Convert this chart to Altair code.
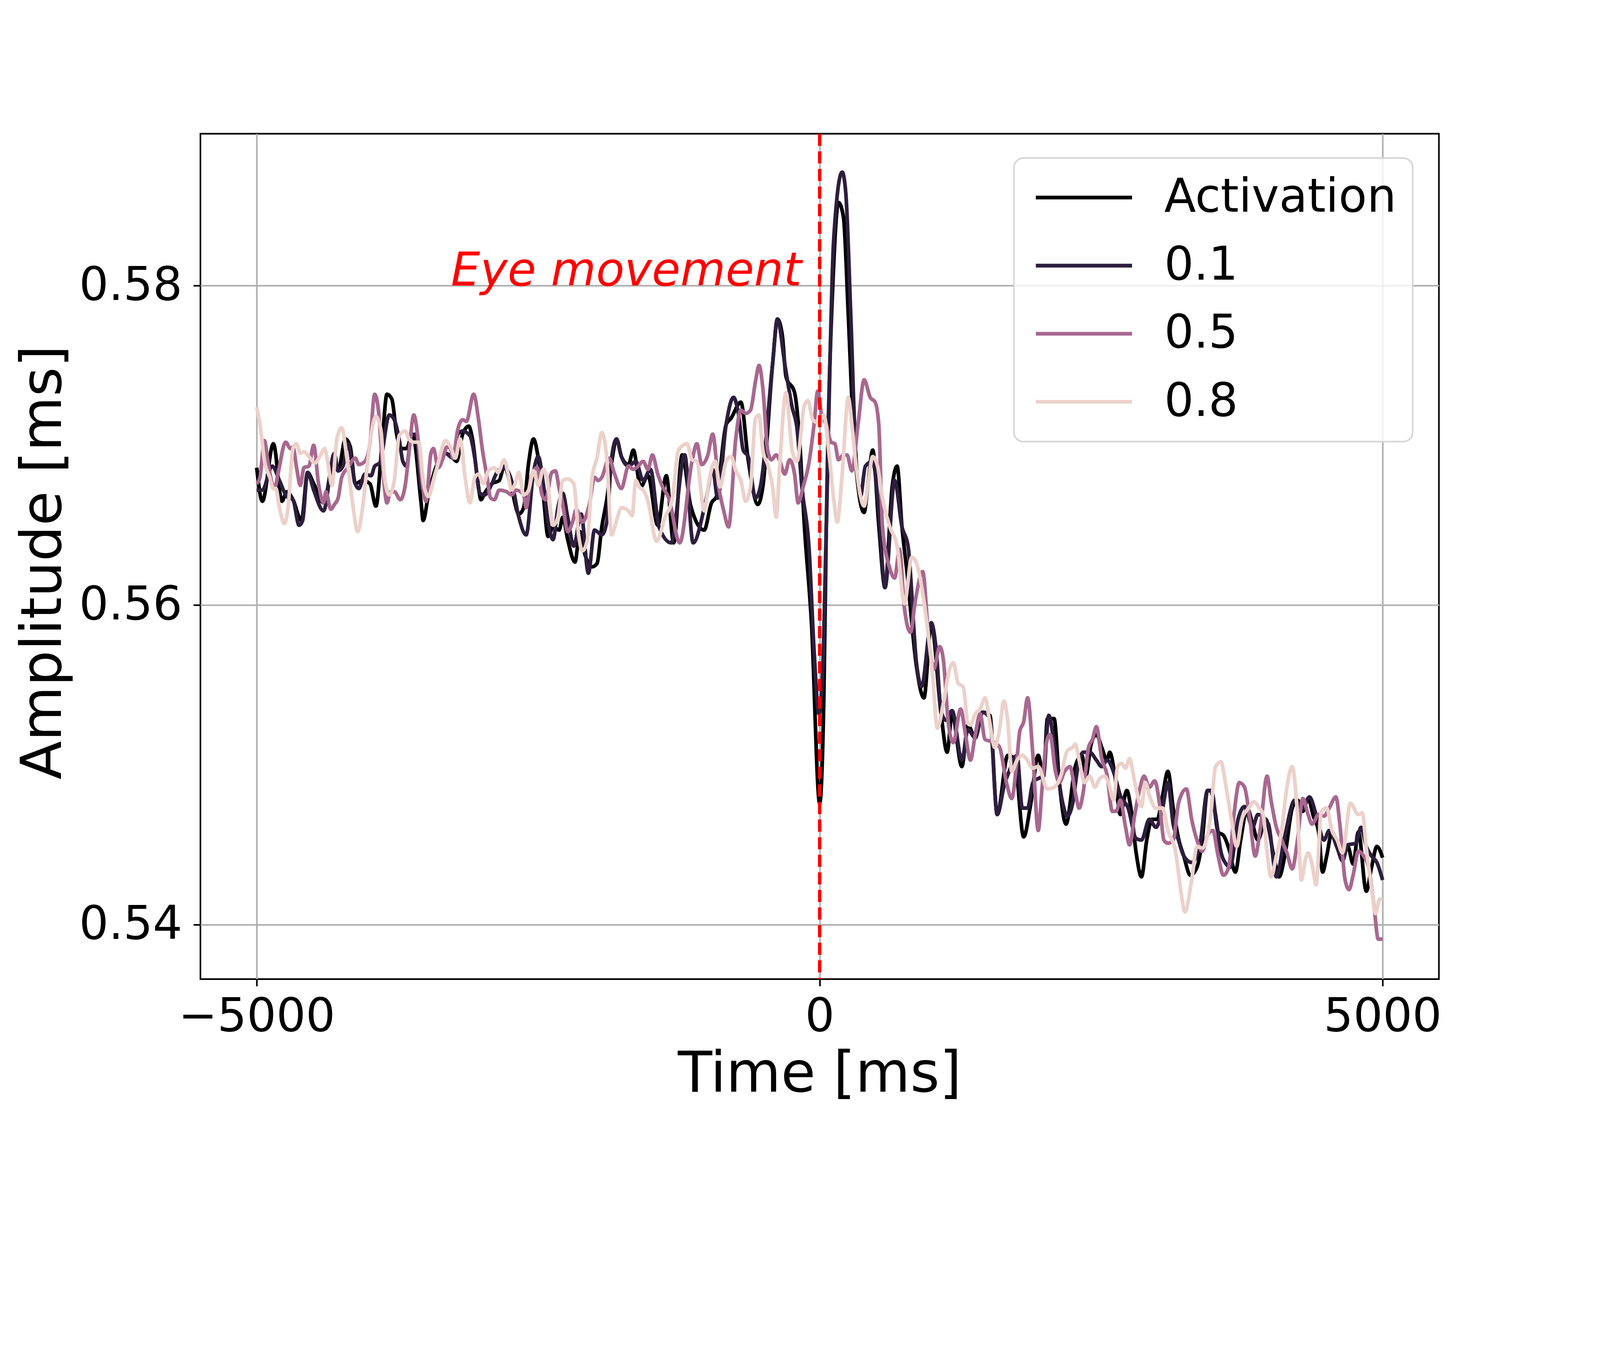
import altair as alt
import pandas as pd

# ---------------- data ----------------
series_names = ["Activation", "0.1", "0.5", "0.8"]
series_colors = ["#000000", "#2d1e3e", "#a8688f", "#ecd1ca"]

t_act = [-5000, -4950, -4852, -4776, -4733, -4678, -4603, -4548, -4494, -4407, -4310, -4277, -4212, -4169, -4125,
         -4060, -3995, -3941, -3887, -3843, -3800, -3757, -3713, -3670, -3616, -3540, -3522, -3475, -3410, -3323,
         -3258, -3225, -3171, -3117, -3084, -3041, -3008, -2976, -2911, -2846, -2802, -2737, -2672, -2629, -2585,
         -2542, -2499, -2455, -2412, -2368, -2314, -2282, -2238, -2173, -2130, -2086, -2021, -1978, -1935, -1891,
         -1848, -1804, -1761, -1698, -1655, -1590, -1525, -1438, -1362, -1297, -1221, -1145, -1026, -961, -917,
         -831, -787, -700, -635, -549, -505, -418, -375, -332, -299, -223, -180, -136, -72, 0,
         37, 59, 124, 167, 211, 254, 297, 341, 395, 427, 471, 525, 580, 644, 688,
         731, 775, 861, 926, 991, 1078, 1132, 1176, 1263, 1317, 1382, 1447, 1512, 1577, 1671,
         1730, 1812, 1871, 1941, 1988, 2023, 2082, 2129, 2188, 2270, 2329, 2364, 2411, 2458, 2505,
         2552, 2576, 2623, 2670, 2728, 2764, 2811, 2858, 2905, 2952, 2999, 3046, 3093, 3140, 3187,
         3234, 3292, 3351, 3398, 3445, 3480, 3539, 3586, 3633, 3692, 3739, 3798, 3845, 3892, 3962,
         4033, 4080, 4138, 4197, 4244, 4291, 4338, 4385, 4432, 4467, 4503, 4550, 4597, 4644, 4691,
         4738, 4785, 4855, 4902, 4949, 5000]
v_act = [0.5686, 0.5665, 0.5701, 0.5665, 0.5671, 0.5666, 0.5653, 0.5683, 0.5676, 0.5664, 0.5692, 0.5684, 0.5704, 0.5699, 0.5676,
         0.5678, 0.5676, 0.5662, 0.5701, 0.5732, 0.5729, 0.5707, 0.5698, 0.5698, 0.5707, 0.5664, 0.5653, 0.5669, 0.5686, 0.5695,
         0.5692, 0.5690, 0.5707, 0.5712, 0.5704, 0.5680, 0.5666, 0.5670, 0.5676, 0.5678, 0.5687, 0.5673, 0.5657, 0.5661, 0.5689,
         0.5704, 0.5692, 0.5669, 0.5643, 0.5649, 0.5647, 0.5655, 0.5641, 0.5627, 0.5646, 0.5632, 0.5624, 0.5626, 0.5649, 0.5666,
         0.5689, 0.5704, 0.5693, 0.5688, 0.5697, 0.5674, 0.5681, 0.5650, 0.5681, 0.5639, 0.5694, 0.5662, 0.5647, 0.5664, 0.5668,
         0.5713, 0.5717, 0.5727, 0.5691, 0.5663, 0.5674, 0.5751, 0.5779, 0.5769, 0.5743, 0.5733, 0.5705, 0.5650, 0.5588, 0.5476,
         0.5542, 0.5649, 0.5812, 0.5852, 0.5843, 0.5782, 0.5713, 0.5674, 0.5658, 0.5674, 0.5697, 0.5650, 0.5611, 0.5674, 0.5687,
         0.5649, 0.5621, 0.5561, 0.5542, 0.5588, 0.5532, 0.5508, 0.5532, 0.5499, 0.5525, 0.5517, 0.5533, 0.5531, 0.5469, 0.5506,
         0.5504, 0.5455, 0.5474, 0.5506, 0.5493, 0.5529, 0.5529, 0.5489, 0.5463, 0.5499, 0.5506, 0.5493, 0.5513, 0.5519, 0.5511,
         0.5503, 0.5508, 0.5493, 0.5469, 0.5484, 0.5473, 0.5445, 0.5430, 0.5453, 0.5466, 0.5466, 0.5481, 0.5496, 0.5473, 0.5454,
         0.5443, 0.5431, 0.5436, 0.5453, 0.5484, 0.5484, 0.5458, 0.5456, 0.5448, 0.5433, 0.5453, 0.5473, 0.5463, 0.5453, 0.5466,
         0.5443, 0.5430, 0.5446, 0.5473, 0.5478, 0.5471, 0.5479, 0.5468, 0.5458, 0.5433, 0.5443, 0.5458, 0.5451, 0.5443, 0.5449,
         0.5438, 0.5458, 0.5421, 0.5436, 0.5449, 0.5442]

t_01 = [-5000, -4950, -4863, -4798, -4733, -4678, -4624, -4592, -4548, -4494, -4407, -4310, -4277, -4234, -4190,
        -4125, -4093, -4039, -3984, -3952, -3908, -3822, -3778, -3735, -3702, -3670, -3626, -3583, -3540, -3475,
        -3410, -3323, -3258, -3214, -3171, -3106, -3063, -3019, -2976, -2911, -2867, -2802, -2737, -2672, -2607,
        -2542, -2499, -2455, -2412, -2368, -2325, -2282, -2238, -2184, -2119, -2054, -2000, -1935, -1891, -1848,
        -1804, -1761, -1698, -1633, -1568, -1503, -1427, -1319, -1199, -1124, -1015, -950, -906, -831, -765,
        -722, -679, -635, -570, -527, -418, -375, -310, -245, -202, -158, -93, -50, -6, 26,
        59, 124, 200, 232, 276, 319, 362, 406, 471, 525, 580, 666, 731, 785, 861,
        905, 991, 1035, 1078, 1122, 1176, 1263, 1317, 1382, 1447, 1512, 1577, 1642, 1683, 1753,
        1800, 1847, 1894, 1988, 2035, 2082, 2153, 2200, 2247, 2294, 2341, 2399, 2458, 2505, 2552,
        2623, 2670, 2740, 2811, 2858, 2928, 2987, 3046, 3093, 3140, 3187, 3234, 3304, 3375, 3445,
        3469, 3516, 3563, 3610, 3645, 3716, 3774, 3845, 3892, 3986, 4056, 4127, 4221, 4291, 4350,
        4409, 4479, 4526, 4597, 4644, 4691, 4761, 4808, 4855, 4902, 4949, 5000]
v_01 = [0.5672, 0.5672, 0.5687, 0.5678, 0.5668, 0.5666, 0.5650, 0.5653, 0.5683, 0.5672, 0.5659, 0.5695, 0.5684, 0.5687, 0.5701,
        0.5676, 0.5673, 0.5682, 0.5681, 0.5687, 0.5689, 0.5719, 0.5716, 0.5704, 0.5690, 0.5687, 0.5706, 0.5707, 0.5673, 0.5672,
        0.5684, 0.5695, 0.5692, 0.5707, 0.5709, 0.5706, 0.5692, 0.5670, 0.5669, 0.5676, 0.5683, 0.5686, 0.5678, 0.5655, 0.5644,
        0.5683, 0.5693, 0.5676, 0.5652, 0.5641, 0.5661, 0.5670, 0.5655, 0.5637, 0.5657, 0.5620, 0.5647, 0.5644, 0.5652, 0.5692,
        0.5704, 0.5693, 0.5687, 0.5690, 0.5678, 0.5685, 0.5649, 0.5639, 0.5694, 0.5639, 0.5664, 0.5685, 0.5667, 0.5713, 0.5730,
        0.5720, 0.5697, 0.5693, 0.5667, 0.5674, 0.5751, 0.5779, 0.5751, 0.5724, 0.5711, 0.5674, 0.5634, 0.5572, 0.5532, 0.5557,
        0.5649, 0.5828, 0.5871, 0.5858, 0.5782, 0.5697, 0.5668, 0.5687, 0.5690, 0.5659, 0.5611, 0.5678, 0.5649, 0.5637, 0.5563,
        0.5549, 0.5589, 0.5572, 0.5534, 0.5528, 0.5534, 0.5503, 0.5522, 0.5517, 0.5533, 0.5529, 0.5469, 0.5488, 0.5496, 0.5506,
        0.5473, 0.5473, 0.5489, 0.5494, 0.5531, 0.5514, 0.5478, 0.5468, 0.5476, 0.5499, 0.5508, 0.5508, 0.5503, 0.5499, 0.5503,
        0.5493, 0.5481, 0.5473, 0.5454, 0.5453, 0.5466, 0.5461, 0.5473, 0.5489, 0.5463, 0.5453, 0.5443, 0.5439, 0.5449, 0.5484,
        0.5484, 0.5469, 0.5446, 0.5438, 0.5436, 0.5466, 0.5474, 0.5461, 0.5469, 0.5463, 0.5430, 0.5454, 0.5478, 0.5473, 0.5480,
        0.5469, 0.5453, 0.5459, 0.5448, 0.5440, 0.5450, 0.5451, 0.5461, 0.5449, 0.5443, 0.5439, 0.5428]

t_05 = [-5000, -4971, -4932, -4895, -4841, -4809, -4743, -4700, -4678, -4646, -4613, -4581, -4537, -4494, -4451,
        -4407, -4386, -4342, -4310, -4277, -4245, -4190, -4125, -4093, -4039, -3995, -3952, -3919, -3887, -3843,
        -3811, -3778, -3724, -3681, -3648, -3605, -3572, -3540, -3496, -3453, -3431, -3388, -3345, -3312, -3279,
        -3258, -3214, -3171, -3138, -3073, -3030, -2997, -2954, -2922, -2889, -2846, -2781, -2737, -2694, -2629,
        -2607, -2564, -2509, -2466, -2434, -2379, -2347, -2314, -2282, -2238, -2195, -2162, -2108, -2043, -2000,
        -1967, -1935, -1870, -1826, -1761, -1698, -1655, -1612, -1568, -1525, -1486, -1438, -1395, -1340, -1243,
        -1134, -1091, -1047, -993, -950, -896, -852, -809, -744, -700, -657, -614, -570, -538, -505,
        -462, -429, -386, -353, -310, -267, -223, -191, -147, -93, -50, -17, 15, 59, 102,
        135, 167, 211, 243, 286, 341, 395, 449, 493, 525, 558, 623, 666, 709, 753,
        807, 850, 915, 970, 1013, 1067, 1100, 1143, 1187, 1252, 1295, 1339, 1382, 1425, 1469,
        1555, 1599, 1659, 1706, 1753, 1777, 1812, 1847, 1894, 1941, 1976, 2011, 2047, 2094, 2129,
        2176, 2223, 2270, 2305, 2341, 2388, 2423, 2458, 2505, 2552, 2599, 2634, 2670, 2717, 2752,
        2799, 2846, 2881, 2928, 2975, 3022, 3057, 3093, 3140, 3187, 3210, 3257, 3304, 3351, 3398,
        3445, 3492, 3539, 3586, 3633, 3680, 3727, 3774, 3821, 3868, 3915, 3974, 4009, 4056, 4103,
        4150, 4197, 4244, 4291, 4338, 4373, 4432, 4479, 4526, 4585, 4620, 4667, 4702, 4738, 4785,
        4832, 4879, 4926, 4961, 5000]
v_05 = [0.5676, 0.5680, 0.5703, 0.5687, 0.5673, 0.5683, 0.5702, 0.5698, 0.5699, 0.5686, 0.5675, 0.5686, 0.5687, 0.5700, 0.5676,
        0.5664, 0.5671, 0.5660, 0.5663, 0.5667, 0.5680, 0.5686, 0.5692, 0.5688, 0.5690, 0.5701, 0.5732, 0.5722, 0.5692, 0.5664,
        0.5671, 0.5671, 0.5666, 0.5675, 0.5695, 0.5719, 0.5707, 0.5683, 0.5665, 0.5695, 0.5698, 0.5686, 0.5692, 0.5699, 0.5698,
        0.5692, 0.5710, 0.5716, 0.5715, 0.5732, 0.5716, 0.5698, 0.5680, 0.5667, 0.5666, 0.5672, 0.5671, 0.5669, 0.5672, 0.5669,
        0.5661, 0.5680, 0.5686, 0.5669, 0.5666, 0.5683, 0.5684, 0.5673, 0.5663, 0.5646, 0.5652, 0.5660, 0.5652, 0.5664, 0.5680,
        0.5678, 0.5680, 0.5692, 0.5683, 0.5673, 0.5687, 0.5685, 0.5687, 0.5690, 0.5685, 0.5694, 0.5682, 0.5674, 0.5667, 0.5639,
        0.5690, 0.5701, 0.5688, 0.5694, 0.5707, 0.5674, 0.5659, 0.5649, 0.5705, 0.5722, 0.5720, 0.5722, 0.5740, 0.5750, 0.5736,
        0.5697, 0.5691, 0.5694, 0.5690, 0.5682, 0.5691, 0.5682, 0.5664, 0.5674, 0.5690, 0.5713, 0.5734, 0.5720, 0.5713, 0.5702,
        0.5701, 0.5691, 0.5694, 0.5694, 0.5684, 0.5713, 0.5741, 0.5730, 0.5727, 0.5713, 0.5649, 0.5623, 0.5617, 0.5635, 0.5598,
        0.5583, 0.5603, 0.5621, 0.5578, 0.5560, 0.5574, 0.5565, 0.5526, 0.5514, 0.5535, 0.5519, 0.5503, 0.5519, 0.5532, 0.5516,
        0.5514, 0.5511, 0.5489, 0.5479, 0.5504, 0.5521, 0.5527, 0.5542, 0.5506, 0.5459, 0.5486, 0.5513, 0.5519, 0.5496, 0.5489,
        0.5496, 0.5499, 0.5483, 0.5473, 0.5483, 0.5511, 0.5516, 0.5524, 0.5504, 0.5494, 0.5471, 0.5471, 0.5478, 0.5461, 0.5450,
        0.5469, 0.5486, 0.5493, 0.5486, 0.5490, 0.5474, 0.5453, 0.5451, 0.5453, 0.5476, 0.5481, 0.5485, 0.5466, 0.5453, 0.5446,
        0.5456, 0.5459, 0.5443, 0.5431, 0.5436, 0.5469, 0.5489, 0.5486, 0.5466, 0.5443, 0.5461, 0.5493, 0.5478, 0.5461, 0.5453,
        0.5445, 0.5435, 0.5453, 0.5479, 0.5469, 0.5463, 0.5469, 0.5468, 0.5473, 0.5480, 0.5463, 0.5428, 0.5422, 0.5431, 0.5446,
        0.5443, 0.5435, 0.5410, 0.5391, 0.5391]

t_08 = [-5000, -4971, -4928, -4884, -4852, -4830, -4798, -4754, -4722, -4678, -4646, -4613, -4581, -4537, -4483,
        -4440, -4396, -4375, -4331, -4288, -4245, -4201, -4147, -4104, -4060, -4028, -3984, -3941, -3898, -3865,
        -3822, -3778, -3735, -3681, -3648, -3605, -3561, -3518, -3475, -3431, -3388, -3323, -3279, -3236, -3193,
        -3149, -3106, -3063, -3030, -2987, -2943, -2889, -2856, -2802, -2770, -2737, -2705, -2672, -2629, -2585,
        -2542, -2499, -2455, -2423, -2368, -2325, -2282, -2238, -2184, -2141, -2108, -2065, -2021, -1978, -1935,
        -1891, -1848, -1804, -1761, -1698, -1666, -1633, -1601, -1557, -1525, -1449, -1373, -1308, -1254, -1177,
        -1134, -1091, -1026, -982, -928, -885, -831, -787, -744, -700, -657, -614, -570, -538, -505,
        -462, -418, -386, -353, -299, -245, -202, -136, -104, -61, -6, 37, 80, 124, 156,
        200, 254, 286, 319, 395, 427, 471, 514, 558, 623, 688, 753, 818, 861, 948,
        1002, 1045, 1100, 1154, 1187, 1230, 1274, 1317, 1339, 1382, 1425, 1469, 1512, 1555, 1599,
        1636, 1671, 1706, 1753, 1800, 1835, 1894, 1941, 2023, 2082, 2141, 2200, 2247, 2270, 2305,
        2352, 2399, 2446, 2482, 2529, 2564, 2611, 2646, 2681, 2717, 2752, 2799, 2858, 2893, 2928,
        2987, 3046, 3093, 3163, 3210, 3245, 3304, 3351, 3398, 3469, 3516, 3563, 3610, 3657, 3704,
        3751, 3810, 3857, 3904, 3939, 3974, 4009, 4056, 4103, 4150, 4197, 4244, 4279, 4315, 4338,
        4373, 4409, 4456, 4503, 4550, 4597, 4644, 4714, 4785, 4820, 4855, 4902, 4937, 4973, 5000]
v_08 = [0.5724, 0.5713, 0.5689, 0.5680, 0.5673, 0.5673, 0.5661, 0.5651, 0.5661, 0.5698, 0.5701, 0.5695, 0.5696, 0.5693, 0.5689,
        0.5693, 0.5698, 0.5692, 0.5675, 0.5704, 0.5711, 0.5693, 0.5663, 0.5646, 0.5661, 0.5681, 0.5707, 0.5718, 0.5710, 0.5680,
        0.5669, 0.5678, 0.5706, 0.5709, 0.5704, 0.5702, 0.5702, 0.5676, 0.5668, 0.5678, 0.5689, 0.5703, 0.5699, 0.5692, 0.5704,
        0.5680, 0.5664, 0.5680, 0.5682, 0.5676, 0.5684, 0.5686, 0.5683, 0.5691, 0.5683, 0.5672, 0.5676, 0.5683, 0.5669, 0.5672,
        0.5684, 0.5675, 0.5685, 0.5680, 0.5650, 0.5655, 0.5678, 0.5679, 0.5676, 0.5644, 0.5634, 0.5640, 0.5680, 0.5692, 0.5708,
        0.5692, 0.5644, 0.5653, 0.5661, 0.5659, 0.5656, 0.5678, 0.5674, 0.5671, 0.5665, 0.5640, 0.5655, 0.5667, 0.5697, 0.5701,
        0.5691, 0.5690, 0.5659, 0.5678, 0.5690, 0.5674, 0.5690, 0.5693, 0.5684, 0.5678, 0.5665, 0.5674, 0.5717, 0.5719, 0.5697,
        0.5688, 0.5674, 0.5655, 0.5690, 0.5733, 0.5697, 0.5690, 0.5725, 0.5728, 0.5716, 0.5714, 0.5719, 0.5697, 0.5667, 0.5652,
        0.5682, 0.5730, 0.5713, 0.5690, 0.5662, 0.5674, 0.5693, 0.5687, 0.5667, 0.5649, 0.5637, 0.5601, 0.5630, 0.5626, 0.5591,
        0.5557, 0.5523, 0.5539, 0.5560, 0.5564, 0.5551, 0.5549, 0.5526, 0.5525, 0.5532, 0.5535, 0.5542, 0.5526, 0.5511, 0.5523,
        0.5540, 0.5527, 0.5496, 0.5503, 0.5506, 0.5504, 0.5498, 0.5499, 0.5485, 0.5486, 0.5493, 0.5509, 0.5511, 0.5513, 0.5503,
        0.5489, 0.5493, 0.5486, 0.5491, 0.5493, 0.5489, 0.5478, 0.5499, 0.5501, 0.5498, 0.5504, 0.5489, 0.5474, 0.5489, 0.5481,
        0.5473, 0.5473, 0.5459, 0.5445, 0.5420, 0.5408, 0.5428, 0.5449, 0.5448, 0.5466, 0.5499, 0.5502, 0.5486, 0.5466, 0.5449,
        0.5466, 0.5473, 0.5477, 0.5473, 0.5469, 0.5445, 0.5430, 0.5443, 0.5459, 0.5486, 0.5499, 0.5469, 0.5428, 0.5441, 0.5445,
        0.5438, 0.5425, 0.5471, 0.5473, 0.5459, 0.5453, 0.5445, 0.5476, 0.5469, 0.5470, 0.5448, 0.5423, 0.5407, 0.5416, 0.5416]

x_ticks = [-5000, 0, 5000]
y_ticks = [0.54, 0.56, 0.58]
event_t = [0]
note_text = ["Eye movement"]
note_t = [-160]
note_v = [0.58]

# ---------------- build chart ----------------
frames = []
for name, ts, vs in zip(series_names, [t_act, t_01, t_05, t_08], [v_act, v_01, v_05, v_08]):
    frames.append(pd.DataFrame({"t": ts, "v": vs, "series": name}))
df = pd.concat(frames, ignore_index=True)

FONT = "DejaVu Sans"
x_scale = alt.Scale(domain=[-5500, 5500], nice=False, zero=False)
y_scale = alt.Scale(domain=[0.5366, 0.5895], nice=False, zero=False)

x_axis = alt.Axis(values=x_ticks, format="d", title="Time [ms]", grid=True, domain=False,
                  tickSize=22, tickWidth=5, tickColor="black", labelPadding=140,
                  labelBaseline="alphabetic", labelFlush=False, labelOverlap=False, labelLimit=0,
                  labelFontSize=145, labelFont=FONT, labelColor="black",
                  titleFontSize=176, titleFont=FONT, titleFontWeight="normal", titleColor="black",
                  titleX=1936, titleY=351, titleBaseline="alphabetic", titleAlign="center",
                  titleLimit=0, gridColor="#b0b0b0", gridWidth=5)
y_axis = alt.Axis(values=y_ticks, format=".2f", title="Amplitude [ms]", grid=True, domain=False,
                  tickSize=22, tickWidth=5, tickColor="black", labelPadding=35,
                  labelFlush=False, labelOverlap=False, labelLimit=0,
                  labelFontSize=145, labelFont=FONT, labelColor="black",
                  titleFontSize=176, titleFont=FONT, titleFontWeight="normal", titleColor="black",
                  titleAngle=270, titleX=-437, titleY=1340, titleBaseline="alphabetic", titleAlign="center",
                  titleLimit=0, gridColor="#b0b0b0", gridWidth=5)

legend = alt.Legend(title=None, orient="none", legendX=2544, legendY=76,
                    symbolType="M-1,0H4.47", symbolSize=12100, symbolStrokeWidth=11.7,
                    labelOffset=274, labelFontSize=145, labelFont=FONT, labelColor="black",
                    labelLimit=0, rowPadding=67, padding=51,
                    strokeColor="#d6d6d6", fillColor="rgba(255,255,255,0.8)", cornerRadius=30)

X = alt.X("t:Q", scale=x_scale, axis=x_axis)
Y = alt.Y("v:Q", scale=y_scale, axis=y_axis)
C = alt.Color("series:N", scale=alt.Scale(domain=series_names, range=series_colors), legend=legend)

base = alt.Chart(df).encode(x=X, y=Y, color=C)
layers = [base.transform_filter(alt.datum.series == name)
          .mark_line(strokeWidth=11.5, interpolate="monotone")
          for name in series_names]

rule = alt.Chart(pd.DataFrame({"t": event_t})).mark_rule(
    color="#ff0000", strokeWidth=10.5, strokeDash=[38, 17]).encode(x=X)

note = alt.Chart(pd.DataFrame({"t": note_t, "v": note_v, "label": note_text})).mark_text(
    color="#ff0000", font=FONT, fontSize=145, fontStyle="italic",
    align="right", baseline="alphabetic").encode(x=X, y=Y, text="label:N")

chart = alt.layer(*layers, rule, note).properties(
    width=3873, height=2644,
    autosize=alt.AutoSizeParams(type="none"),
    padding={"left": 617, "top": 93, "right": 494, "bottom": 111},
    background="white",
).configure_view(stroke="black", strokeWidth=5).configure_legend(strokeWidth=5)

chart.save("out.html", embed_options={"renderer": "svg", "actions": False})
